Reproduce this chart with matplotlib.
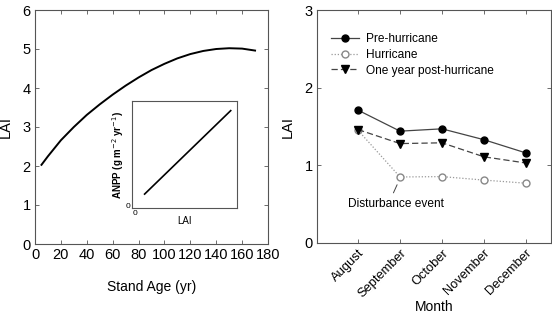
import matplotlib
matplotlib.use("Agg")
import matplotlib.pyplot as plt

plt.rcParams['font.family'] = ['Liberation Sans', 'DejaVu Sans']

# left panel: LAI vs stand age
stand_age = [5, 10, 20, 30, 40, 50, 60, 70, 80, 90, 100, 110, 120, 130, 140, 150, 160, 170]
lai_age = [2.03, 2.25, 2.66, 3.0, 3.31, 3.58, 3.83, 4.06, 4.27, 4.46, 4.62, 4.76, 4.87, 4.95, 5.0, 5.02, 5.01, 4.96]

# inset: ANPP vs LAI (schematic)
inset_lai = [0.12, 0.94]
inset_anpp = [0.13, 0.91]

# right panel: monthly LAI
months = ['August', 'September', 'October', 'November', 'December']
pre_hurricane = [1.71, 1.44, 1.47, 1.33, 1.16]
hurricane = [1.45, 0.85, 0.855, 0.81, 0.77]
post_hurricane = [1.46, 1.28, 1.29, 1.11, 1.03]

W, H = 552, 315
fig = plt.figure(figsize=(W / 100, H / 100), dpi=100)

def box(l, t, r, b):
    return [l / W, 1 - b / H, (r - l) / W, (b - t) / H]

spine_col = '#555555'

def style(ax):
    for s in ax.spines.values():
        s.set_color(spine_col)
        s.set_linewidth(0.8)
    ax.tick_params(direction='in', top=True, right=True, length=3,
                   width=0.6, color=spine_col, labelsize=10.5, pad=3)

# ---- left
ax1 = fig.add_axes(box(35, 10, 268, 244))
ax1.plot(stand_age, lai_age, color='black', lw=1.4)
ax1.set_xlim(0, 180)
ax1.set_ylim(0, 6)
ax1.set_xticks(range(0, 181, 20))
ax1.set_yticks(range(0, 7))
style(ax1)
ax1.set_xlabel('Stand Age (yr)', fontsize=10, labelpad=13)
ax1.set_ylabel('LAI', fontsize=10.5, labelpad=7)

# ---- inset
axi = fig.add_axes(box(132, 101, 237, 208))
axi.plot(inset_lai, inset_anpp, color='black', lw=1.2)
axi.set_xlim(0, 1)
axi.set_ylim(0, 1)
axi.set_xticks([])
axi.set_yticks([])
for s in axi.spines.values():
    s.set_color(spine_col)
    s.set_linewidth(0.8)
axi.text(-0.02, -0.02, '0', transform=axi.transAxes, ha='right', va='bottom', fontsize=6)
axi.text(0.01, -0.02, '0', transform=axi.transAxes, ha='left', va='top', fontsize=6)
axi.set_xlabel('LAI', fontsize=7, labelpad=6)
axi.set_ylabel('ANPP (g m$^{-2}$ yr$^{-1}$)', fontsize=7, fontweight='bold', labelpad=4)

# ---- right
ax2 = fig.add_axes(box(317, 10, 551, 243))
x = list(range(1, len(months) + 1))
ax2.plot(x, pre_hurricane, color='#444444', lw=0.9, marker='o', ms=5,
         mfc='black', mec='black', label='Pre-hurricane')
ax2.plot(x, hurricane, color='#999999', lw=0.9, ls=(0, (1, 1.5)), marker='o', ms=5,
         mfc='white', mec='#888888', label='Hurricane')
ax2.plot(x, post_hurricane, color='#444444', lw=0.9, ls=(0, (5, 2.5)), marker='v', ms=5.5,
         mfc='black', mec='black', label='One year post-hurricane')
ax2.set_xlim(0.02, 5.6)
ax2.set_ylim(0, 3)
ax2.set_xticks(x)
style(ax2)
ax2.set_xticklabels(months, rotation=45, ha='right', rotation_mode='anchor', fontsize=9.3)
ax2.set_yticks([0, 1, 2, 3])
ax2.set_xlabel('Month', fontsize=10, labelpad=0)
ax2.set_ylabel('LAI', fontsize=10.5, labelpad=7)
ax2.legend(loc='upper left', bbox_to_anchor=(0.04, 0.92), frameon=False,
           fontsize=8.6, handlelength=2.3, handletextpad=0.6, labelspacing=0.3,
           borderaxespad=0)
ax2.annotate('Disturbance event', xy=(1.93, 0.75), xytext=(1.9, 0.5),
             fontsize=8.6, ha='center', va='center',
             arrowprops=dict(arrowstyle='-', color='#444444', lw=0.7,
                             relpos=(0.45, 1.0), shrinkA=2, shrinkB=0))

fig.savefig('out.png', dpi=100)
